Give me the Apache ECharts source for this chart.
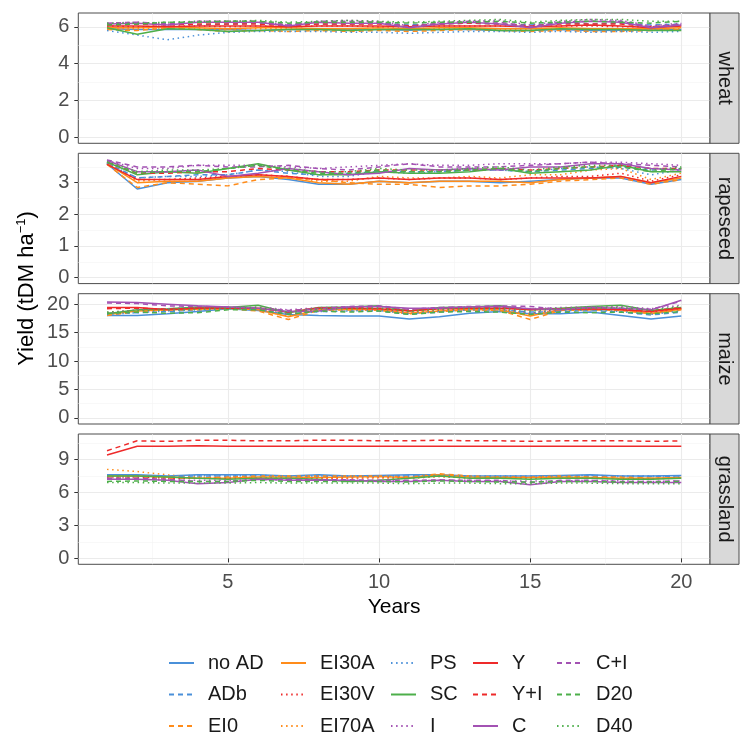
<!DOCTYPE html>
<html><head><meta charset="utf-8">
<script src="https://cdn.jsdelivr.net/npm/echarts@6/dist/echarts.min.js"></script>
<style>html,body{margin:0;padding:0;background:#fff}#c{width:740px;height:736px}</style>
</head><body><div id="c"></div>
<script>
const years = [1,2,3,4,5,6,7,8,9,10,11,12,13,14,15,16,17,18,19,20];
const scenarios = ['no AD','ADb','EI0','EI30A','EI30V','EI70A','PS','SC','I','Y','Y+I','C','C+I','D20','D40'];
const crops = ['wheat','rapeseed','maize','grassland'];
const xTicks = [5,10,15,20];
const wheatTicks = [0,2,4,6];
const rapeseedTicks = [0,1,2,3];
const maizeTicks = [0,5,10,15,20];
const grasslandTicks = [0,3,6,9];

// rows follow the order of `scenarios`
const wheatYield = [
 [5.90,5.85,5.85,5.85,5.85,5.80,5.85,5.85,5.85,5.85,5.82,5.85,5.85,5.80,5.80,5.85,5.80,5.82,5.85,5.85],
 [6.15,6.15,6.20,6.10,6.15,6.20,6.10,6.15,6.15,6.20,6.10,6.15,6.20,6.15,6.10,6.20,6.15,6.20,6.10,6.15],
 [5.85,5.80,5.95,5.85,5.75,5.80,5.75,5.80,5.75,5.80,5.75,5.80,5.85,5.80,5.75,5.80,5.75,5.75,5.80,5.85],
 [5.95,5.95,6.00,5.95,5.90,5.95,5.95,5.90,5.90,5.95,5.90,5.95,5.95,5.90,5.90,5.95,5.90,5.90,5.90,5.95],
 [6.05,6.00,6.05,6.05,6.00,6.05,6.00,6.05,6.05,6.00,6.00,6.05,6.05,6.05,6.00,6.05,6.05,6.00,6.00,6.05],
 [5.90,5.90,5.95,5.90,5.85,5.90,5.90,5.85,5.90,5.85,5.85,5.90,5.90,5.85,5.85,5.90,5.90,5.85,5.85,5.90],
 [5.80,5.55,5.30,5.55,5.70,5.75,5.75,5.75,5.70,5.70,5.65,5.70,5.75,5.75,5.70,5.75,5.70,5.75,5.70,5.75],
 [5.95,5.60,5.90,5.85,5.75,5.80,5.85,5.85,5.80,5.85,5.85,5.85,5.90,5.80,5.80,5.90,5.85,5.85,5.80,5.80],
 [6.20,6.25,6.15,6.30,6.30,6.30,6.10,6.30,6.35,6.30,6.05,6.25,6.30,6.35,6.10,6.30,6.40,6.35,6.05,6.20],
 [6.05,6.05,6.00,6.05,6.05,6.05,6.00,6.05,6.05,6.05,6.00,6.05,6.05,6.05,6.00,6.05,6.10,6.05,5.95,6.05],
 [6.10,6.15,6.10,6.15,6.15,6.15,6.05,6.15,6.15,6.15,6.05,6.15,6.20,6.15,6.05,6.15,6.15,6.15,6.00,6.10],
 [6.15,6.20,6.10,6.25,6.25,6.25,6.05,6.25,6.20,6.20,5.95,6.15,6.25,6.15,5.95,6.20,6.30,6.25,5.95,6.10],
 [6.20,6.25,6.15,6.30,6.30,6.30,6.10,6.30,6.30,6.25,6.00,6.20,6.30,6.25,6.00,6.25,6.30,6.30,6.00,6.15],
 [6.10,6.15,6.25,6.25,6.30,6.30,6.20,6.25,6.25,6.25,6.20,6.25,6.25,6.30,6.20,6.25,6.30,6.25,6.20,6.30],
 [6.20,6.20,6.25,6.30,6.30,6.35,6.25,6.30,6.35,6.30,6.25,6.30,6.35,6.40,6.25,6.35,6.40,6.40,6.30,6.30]
];
const rapeseedYield = [
 [3.60,2.80,3.00,3.05,3.15,3.20,3.10,2.95,2.95,3.05,3.00,3.05,3.05,3.00,3.05,3.10,3.15,3.15,2.95,3.10],
 [3.62,3.15,3.20,3.25,3.25,3.40,3.30,3.25,3.30,3.35,3.35,3.35,3.40,3.40,3.35,3.40,3.45,3.50,3.40,3.45],
 [3.58,2.85,3.00,2.95,2.90,3.10,3.15,3.10,3.00,2.95,2.95,2.85,2.90,2.90,2.95,3.05,3.10,3.15,2.95,3.10],
 [3.60,3.00,3.05,3.05,3.15,3.20,3.15,3.00,2.95,3.05,3.00,3.05,3.05,3.05,3.00,3.10,3.15,3.20,3.00,3.15],
 [3.62,3.10,3.10,3.15,3.20,3.25,3.20,3.10,3.10,3.15,3.10,3.15,3.15,3.10,3.15,3.20,3.20,3.30,3.05,3.25],
 [3.60,3.05,3.10,3.10,3.15,3.25,3.20,3.05,3.05,3.20,3.15,3.15,3.20,3.15,3.25,3.25,3.40,3.45,3.10,3.30],
 [3.62,3.15,3.20,3.20,3.25,3.40,3.35,3.20,3.20,3.35,3.30,3.35,3.40,3.40,3.35,3.45,3.50,3.45,3.25,3.40],
 [3.65,3.25,3.35,3.30,3.45,3.60,3.40,3.25,3.25,3.35,3.30,3.30,3.35,3.45,3.30,3.35,3.40,3.55,3.35,3.35],
 [3.70,3.45,3.45,3.55,3.55,3.55,3.50,3.45,3.50,3.55,3.60,3.55,3.55,3.60,3.60,3.60,3.65,3.65,3.60,3.55],
 [3.58,3.10,3.10,3.10,3.20,3.25,3.20,3.10,3.10,3.15,3.10,3.15,3.15,3.10,3.15,3.15,3.15,3.20,3.00,3.20],
 [3.65,3.30,3.30,3.35,3.35,3.45,3.40,3.35,3.35,3.40,3.40,3.40,3.40,3.45,3.40,3.45,3.50,3.55,3.45,3.45],
 [3.70,3.35,3.35,3.40,3.20,3.30,3.45,3.35,3.25,3.30,3.45,3.40,3.45,3.40,3.50,3.50,3.60,3.60,3.45,3.40],
 [3.72,3.50,3.50,3.55,3.50,3.50,3.55,3.45,3.40,3.50,3.60,3.50,3.50,3.50,3.55,3.60,3.65,3.60,3.55,3.50],
 [3.65,3.30,3.35,3.35,3.45,3.55,3.40,3.30,3.30,3.40,3.35,3.35,3.40,3.45,3.35,3.45,3.50,3.50,3.35,3.45],
 [3.66,3.35,3.40,3.40,3.45,3.55,3.45,3.35,3.35,3.45,3.40,3.40,3.45,3.50,3.40,3.50,3.55,3.55,3.40,3.50]
];
const maizeYield = [
 [18.0,18.0,18.3,18.7,19.2,18.9,18.2,18.0,17.9,17.9,17.4,17.8,18.4,18.7,18.3,18.3,18.6,18.0,17.4,17.9],
 [18.3,18.5,18.7,19.0,19.2,19.0,18.3,18.7,18.8,18.8,18.2,18.6,18.9,19.0,18.6,18.7,18.9,18.6,18.1,18.6],
 [18.0,18.7,19.0,19.0,19.2,18.8,17.3,18.9,19.0,18.9,18.3,18.7,19.0,18.9,17.3,18.9,19.0,18.9,18.3,19.0],
 [18.2,18.8,19.0,19.1,19.3,19.0,17.8,19.0,19.1,19.0,18.4,18.8,19.1,19.0,17.9,19.0,19.1,19.0,18.4,19.1],
 [18.5,18.9,19.0,19.2,19.3,19.1,18.2,19.1,19.2,19.1,18.6,18.9,19.2,19.2,18.4,19.1,19.2,19.1,18.6,19.2],
 [18.3,18.8,19.0,19.1,19.3,19.0,17.9,19.0,19.1,19.0,18.5,18.9,19.1,19.1,18.2,19.0,19.1,19.0,18.5,19.2],
 [18.2,18.5,18.8,19.0,19.2,19.0,18.2,18.7,18.8,18.9,18.3,18.7,19.0,19.0,18.5,18.8,19.0,18.7,18.2,18.8],
 [18.3,19.0,19.2,19.5,19.4,19.8,18.5,19.4,19.5,19.7,18.8,19.4,19.5,19.7,19.0,19.3,19.6,19.8,18.9,19.4],
 [18.5,19.0,19.2,19.4,19.4,19.5,19.0,19.4,19.5,19.6,19.1,19.4,19.5,19.6,19.2,19.4,19.5,19.6,19.2,19.8],
 [19.4,19.4,19.0,19.3,19.3,19.3,18.6,19.3,19.3,19.2,18.8,19.2,19.3,19.3,19.0,19.1,19.2,19.0,18.7,19.3],
 [19.2,19.3,19.1,19.3,19.4,19.3,18.8,19.3,19.4,19.3,18.9,19.2,19.3,19.4,19.1,19.2,19.3,19.1,18.8,19.4],
 [20.4,20.3,20.0,19.7,19.5,19.3,18.7,18.8,19.5,19.6,19.3,19.3,19.5,19.6,19.2,19.0,19.4,19.3,19.0,20.7],
 [20.2,20.1,19.7,19.6,19.5,19.3,18.9,19.2,19.6,19.7,19.1,19.4,19.6,19.7,19.6,19.1,19.4,19.3,19.1,20.5],
 [18.4,18.6,18.4,18.5,19.0,19.0,18.2,18.8,18.6,18.8,18.2,18.6,18.7,18.6,18.2,18.6,18.5,18.6,18.3,18.7],
 [18.6,18.9,19.0,19.1,19.3,19.4,18.6,19.2,19.2,19.3,18.7,19.1,19.3,19.3,18.8,19.2,19.3,19.4,18.9,19.6]
];
const grasslandYield = [
 [7.60,7.60,7.50,7.60,7.60,7.60,7.50,7.60,7.50,7.55,7.60,7.60,7.50,7.50,7.50,7.55,7.60,7.50,7.50,7.55],
 [7.50,7.50,7.45,7.50,7.50,7.50,7.45,7.50,7.45,7.50,7.50,7.55,7.45,7.45,7.45,7.50,7.50,7.45,7.45,7.50],
 [7.40,7.40,7.30,7.30,7.40,7.50,7.50,7.50,7.50,7.50,7.40,7.70,7.50,7.40,7.40,7.50,7.40,7.40,7.30,7.30],
 [7.50,7.50,7.40,7.30,7.30,7.40,7.40,7.35,7.40,7.45,7.35,7.60,7.40,7.35,7.35,7.40,7.35,7.30,7.30,7.35],
 [7.40,7.40,7.30,7.30,7.30,7.35,7.30,7.30,7.30,7.35,7.30,7.45,7.30,7.30,7.30,7.30,7.30,7.25,7.25,7.30],
 [8.10,7.90,7.60,7.40,7.35,7.40,7.35,7.30,7.30,7.35,7.30,7.45,7.30,7.30,7.30,7.35,7.30,7.30,7.30,7.30],
 [7.50,7.50,7.50,7.55,7.50,7.55,7.50,7.50,7.50,7.50,7.50,7.55,7.50,7.50,7.50,7.50,7.55,7.50,7.50,7.50],
 [7.50,7.50,7.40,7.30,7.20,7.30,7.30,7.20,7.00,7.10,7.30,7.50,7.30,7.30,7.20,7.30,7.30,7.20,7.20,7.30],
 [7.20,7.20,7.15,7.10,7.10,7.15,7.15,7.10,7.10,7.10,7.05,7.10,7.10,7.05,7.05,7.05,7.10,7.05,7.00,7.05],
 [9.40,10.20,10.20,10.25,10.20,10.20,10.20,10.20,10.20,10.20,10.20,10.20,10.20,10.20,10.20,10.20,10.20,10.20,10.20,10.20],
 [9.80,10.70,10.65,10.75,10.75,10.70,10.70,10.75,10.75,10.70,10.70,10.75,10.70,10.70,10.65,10.70,10.70,10.70,10.65,10.70],
 [7.20,7.20,7.10,6.80,6.90,7.20,7.10,7.10,7.10,7.00,7.00,7.10,7.00,7.00,6.70,7.00,7.00,6.90,6.90,6.90],
 [7.30,7.30,7.20,7.00,7.00,7.20,7.20,7.15,7.15,7.10,7.10,7.15,7.10,7.10,6.90,7.10,7.10,7.00,7.00,7.05],
 [7.00,7.05,7.00,7.00,7.00,7.10,7.00,7.00,7.00,7.00,6.95,7.05,7.00,6.95,6.95,7.00,7.00,6.95,6.95,7.00],
 [6.90,6.90,6.85,6.85,6.85,6.90,6.85,6.85,6.85,6.85,6.80,6.85,6.85,6.80,6.80,6.85,6.85,6.80,6.80,6.80]
];

// ---- styling / layout ----
const FONT = '"Liberation Sans", Arial, Helvetica, sans-serif';
const BLUE = '#4A90D9', ORANGE = '#FF8C1A', RED = '#EE2A2A', GREEN = '#4DAF4A', PURPLE = '#A352B3';
const seriesColor = [BLUE,BLUE,ORANGE,ORANGE,RED,ORANGE,BLUE,GREEN,PURPLE,RED,RED,PURPLE,PURPLE,GREEN,GREEN];
const SOLID = 'solid', DASH = [5,4], DOT = [1.5,3.6];
const seriesDash = [SOLID,DASH,DASH,SOLID,DOT,DOT,DOT,SOLID,DOT,SOLID,DASH,SOLID,DASH,DASH,DOT];

const cropData = [wheatYield, rapeseedYield, maizeYield, grasslandYield];
const cropTicks = [wheatTicks, rapeseedTicks, maizeTicks, grasslandTicks];
const yRange = [[-0.32, 6.75], [-0.19, 3.93], [-1.08, 21.84], [-0.54, 11.32]];
const xRange = [0.05, 20.95];
const panelTop = [13, 153.3, 293.7, 434];
const panelH = 130.3, panelL = 78.3, panelR = 710;

function minors(ticks, range) {
  const step = ticks[1] - ticks[0];
  const out = [];
  for (let v = ticks[0] - step / 2; v <= range[1]; v += step) {
    if (v >= range[0]) out.push(v);
  }
  return out;
}

const grids = [], xAxes = [], yAxes = [], series = [], graphics = [];
const majorLine = {color: '#EBEBEB', width: 1.1};
const minorLine = {color: '#F4F4F4', width: 0.6};

crops.forEach((crop, i) => {
  grids.push({left: panelL, top: panelTop[i], width: panelR - panelL, height: panelH,
    show: true, borderColor: '#4D4D4D', borderWidth: 1, backgroundColor: 'transparent'});
  const last = i === crops.length - 1;
  xAxes.push({type: 'value', gridIndex: i, min: xRange[0], max: xRange[1],
    axisLine: {show: false},
    axisTick: {show: last, customValues: xTicks, length: 4, lineStyle: {color: '#333'}},
    axisLabel: {show: last, customValues: xTicks, fontSize: 20, color: '#4D4D4D', margin: 8, fontFamily: FONT},
    splitLine: {show: true, lineStyle: majorLine},
    name: last ? 'Years' : '', nameLocation: 'middle', nameGap: 32,
    nameTextStyle: {fontSize: 21, color: '#000', fontFamily: FONT}, z: 1});
  yAxes.push({type: 'value', gridIndex: i, min: yRange[i][0], max: yRange[i][1],
    axisLine: {show: false},
    axisTick: {show: true, customValues: cropTicks[i], length: 4, lineStyle: {color: '#333'}},
    axisLabel: {show: true, customValues: cropTicks[i], fontSize: 20, color: '#4D4D4D', margin: 9, fontFamily: FONT},
    splitLine: {show: true, lineStyle: majorLine}, z: 1});
});
crops.forEach((crop, i) => {
  const xm = minors(xTicks, xRange);
  xAxes.push({type: 'value', gridIndex: i, min: xRange[0], max: xRange[1],
    axisLine: {show: false}, axisLabel: {show: false},
    axisTick: {show: false, customValues: xm},
    splitLine: {show: true, lineStyle: minorLine}, z: 0});
  const ym = minors(cropTicks[i], yRange[i]);
  yAxes.push({type: 'value', gridIndex: i, min: yRange[i][0], max: yRange[i][1],
    axisLine: {show: false}, axisLabel: {show: false},
    axisTick: {show: false, customValues: ym},
    splitLine: {show: true, lineStyle: minorLine}, z: 0});
});

crops.forEach((crop, i) => {
  scenarios.forEach((name, k) => {
    series.push({
      type: 'line', name: name, xAxisIndex: i, yAxisIndex: i,
      data: years.map((yr, j) => [yr, cropData[i][k][j]]),
      symbol: 'none', showSymbol: false, silent: true,
      color: seriesColor[k],
      lineStyle: {color: seriesColor[k], width: 1.5, type: seriesDash[k]},
      z: 3
    });
  });
  graphics.push({type: 'rect', shape: {x: panelR, y: panelTop[i], width: 29, height: panelH},
    style: {fill: '#D9D9D9', stroke: '#4D4D4D', lineWidth: 1}, z: 10});
  graphics.push({type: 'text', x: panelR + 14.5, y: panelTop[i] + panelH / 2, rotation: -Math.PI / 2,
    style: {text: crop, fontSize: 20, fontFamily: FONT, fill: '#1A1A1A', align: 'center', verticalAlign: 'middle'}, z: 11});
});

graphics.push({type: 'text', x: 27, y: 288.5, rotation: Math.PI / 2,
  style: {text: 'Yield (tDM ha{sup|−1})', fontSize: 22, fontFamily: FONT, fill: '#000',
    align: 'center', verticalAlign: 'middle', lineHeight: 24,
    rich: {sup: {fontSize: 13, fontFamily: FONT, fill: '#000', verticalAlign: 'top', lineHeight: 14}}}, z: 11});

const legendLeft = [168, 280, 390, 472, 556];
const legends = legendLeft.map((lx, c) => ({
  type: 'plain', orient: 'vertical', left: lx, top: 653, height: 90, width: 120, padding: 0,
  itemWidth: 25, itemHeight: 14, itemGap: 11.5,
  selectedMode: false, data: scenarios.slice(c * 3, c * 3 + 3),
  itemStyle: {opacity: 0, borderWidth: 0},
  textStyle: {fontSize: 20, color: '#1A1A1A', fontFamily: FONT, padding: [0, 0, 0, 9], lineHeight: 20}
}));

const chart = echarts.init(document.getElementById('c'), null, {renderer: 'canvas'});
chart.setOption({
  animation: false,
  backgroundColor: '#fff',
  textStyle: {fontFamily: FONT},
  grid: grids, xAxis: xAxes, yAxis: yAxes, series: series,
  legend: legends, graphic: graphics
});
</script></body></html>
